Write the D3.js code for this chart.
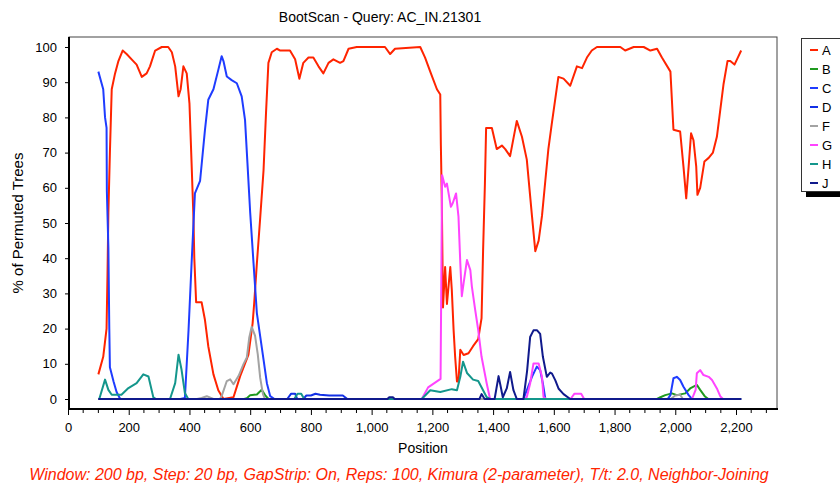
<!DOCTYPE html>
<html><head><meta charset="utf-8">
<script src="https://cdn.jsdelivr.net/npm/d3@7/dist/d3.min.js"></script>
<style>
html,body{margin:0;padding:0;background:#fff;}
svg{display:block;font-family:"Liberation Sans",Arial,sans-serif;}
</style></head>
<body>
<svg id="chart" width="840" height="483"></svg>
<script>
// ---------- DATA ----------
const title = "BootScan - Query: AC_IN.21301";
const xTitle = "Position";
const yTitle = "% of Permuted Trees";
const footer = "Window: 200 bp, Step: 20 bp, GapStrip: On, Reps: 100, Kimura (2-parameter), T/t: 2.0, Neighbor-Joining";
const seriesNames = ["A","B","C","D","F","G","H","J"];
const seriesColors = ["#ff2400","#1f9a1f","#1f3cff","#1230e6","#a3a3a3","#ff44ff","#14968c","#101a8c"];
const xTickValues = [0,200,400,600,800,1000,1200,1400,1600,1800,2000,2200];
const yTickValues = [0,10,20,30,40,50,60,70,80,90,100];

// [position, % of permuted trees]
const seriesA = [[100,7],[116,12],[127,20],[130,35],[133,53],[138,70],[144,88],[155,92.5],[166,96],[180,99],[193,98],[215,96],[226,95],[243,91.5],[259,92.5],[270,94.5],[287,99],[309,100],[330,100],[342,98.5],[353,94.5],[364,86],[371,88],[380,94.5],[391,92.5],[400,84],[407,67],[413,52],[416,40],[422,27.5],[440,27.5],[451,22.5],[462,15],[479,7],[495,2.5],[512,0],[545,0.5],[567,6.5],[594,12.5],[608,21.5],[613,27],[622,38.5],[633,51.5],[644,65],[652,81],[660,95.5],[671,98.5],[688,99.5],[699,99],[731,99],[748,96.5],[762,91],[775,95.5],[792,97],[808,97],[825,94.5],[841,92.5],[858,95.5],[874,96.5],[896,95.5],[907,96],[924,99.5],[951,100],[1044,100],[1061,98],[1077,99.5],[1160,100],[1176,97],[1193,93],[1215,88],[1226,86.5],[1228,72],[1231,57],[1235,26],[1242,37.5],[1248,27],[1259,37.5],[1264,31],[1270,19.5],[1275,12],[1281,5],[1286,5],[1292,14],[1303,12.5],[1319,13],[1334,15],[1351,17],[1362,23],[1367,42],[1373,61],[1377,77],[1396,77],[1412,71],[1429,72],[1440,71],[1456,69],[1478,79],[1495,74.5],[1511,68],[1528,52],[1539,42],[1550,45],[1561,52],[1572,62],[1582,71],[1593,78],[1615,91.5],[1632,91],[1654,89],[1676,94.5],[1693,94],[1709,97],[1725,99],[1742,100],[1819,100],[1835,99],[1863,100],[1896,100],[1918,99],[1940,99.5],[1956,97],[1984,93],[1994,76.5],[2016,76],[2027,66],[2036,57],[2044,66],[2052,75.5],[2060,73.5],[2069,66],[2073,58],[2082,60],[2096,67.5],[2110,68.5],[2124,70],[2137,74.5],[2148,82],[2159,89.5],[2172,96],[2181,96],[2195,95],[2206,97],[2217,99]];
const seriesB = [[100,0],[580,0],[589,0.2],[600,1.1],[622,1.3],[638,2.6],[649,1.1],[660,0],[1940,0],[1951,0.5],[1967,1.1],[1989,1.6],[2005,1.1],[2033,1.6],[2049,3],[2071,4],[2082,2.6],[2098,0.7],[2109,0],[2217,0]];
const seriesC = [[100,93],[116,88],[122,80],[127,77],[128,59],[133,43],[136,20],[138,9],[150,5],[160,2],[172,0],[370,0],[385,0.3],[397,19.6],[407,38.5],[418,58.4],[435,62],[451,76.4],[462,85],[479,88],[495,93.5],[506,97.4],[512,96],[523,91.6],[539,90.6],[556,89.7],[572,86],[583,79.3],[591,67],[600,53],[611,38.6],[622,24.4],[633,17.8],[644,11.2],[655,4.5],[666,0.8],[680,0],[1500,0],[1528,6.3],[1544,9.2],[1555,8.2],[1564,4.4],[1572,0],[1975,0],[1984,1.1],[1994,5.9],[2005,6.3],[2016,5.4],[2027,3.5],[2044,1.1],[2055,0],[2217,0]];
const seriesD = [[100,0],[722,0],[735,1.5],[748,1.5],[755,0],[775,0],[785,1],[800,1],[815,1.5],[830,1.2],[860,1],[905,1],[920,0],[2217,0]];
const seriesF = [[100,0],[425,0],[440,0.3],[457,0.8],[479,0],[500,0],[506,0.8],[523,5.1],[534,5.6],[545,4.2],[562,6.6],[578,9.9],[589,11.8],[597,17.5],[605,20.5],[616,18],[625,12.7],[633,6],[642,1.4],[649,0],[1985,0],[2000,1],[2016,1.2],[2025,0],[2217,0]];
const seriesG = [[100,0],[1165,0],[1186,3.3],[1227,5.7],[1232,63.6],[1242,60.3],[1248,61.2],[1261,54.6],[1267,55.6],[1278,58.4],[1286,51.8],[1292,38.6],[1297,29.2],[1303,33],[1314,39.5],[1325,36.6],[1330,32],[1341,25.3],[1351,19.6],[1362,12],[1379,4.4],[1390,0],[1505,0],[1511,0.6],[1522,4.4],[1533,10.1],[1550,10.1],[1561,6.3],[1566,0.6],[1575,0],[1655,0],[1668,1.5],[1690,1.5],[1700,0],[2055,0],[2067,2.6],[2071,7.3],[2082,8.2],[2093,6.8],[2110,6.3],[2121,5.4],[2137,3],[2148,0.8],[2157,0],[2217,0]];
const seriesH = [[100,0],[103,0],[122,5.5],[133,2.6],[144,1.2],[176,1.2],[199,3.1],[226,4.5],[248,7],[265,6.4],[281,0.5],[290,0],[336,0],[353,4.5],[364,12.6],[374,8.3],[385,1.7],[396,0],[745,0],[756,1.5],[768,1.5],[778,0],[1165,0],[1193,2.5],[1226,2],[1264,2.8],[1281,2.5],[1292,6.3],[1301,10.6],[1314,7.4],[1334,5.5],[1351,5.1],[1367,2.5],[1379,0.5],[1390,0],[2217,0]];
const seriesJ = [[100,0],[1052,0],[1058,0.5],[1070,0.5],[1076,0],[1355,0],[1362,1.4],[1372,0],[1405,0],[1418,6.5],[1424,4],[1432,0.5],[1445,3],[1456,7.7],[1467,2.5],[1478,0],[1500,0],[1512,8],[1522,17.6],[1533,19.5],[1545,19.5],[1555,18.5],[1564,12],[1577,6.3],[1588,7.5],[1594,7.2],[1605,5.3],[1616,2.9],[1632,1.4],[1654,0],[2217,0]];
const allSeries = [seriesA,seriesB,seriesC,seriesD,seriesF,seriesG,seriesH,seriesJ];

// ---------- LAYOUT ----------
const plot = {left:69, right:777, top:37, bottom:409};
const xMax = 2335;
const x = d3.scaleLinear().domain([0,xMax]).range([68,777]);
const y = d3.scaleLinear().domain([-2.84,102.84]).range([409,37]);

const svg = d3.select("#chart");

// frame
svg.append("rect").attr("x",plot.left).attr("y",plot.top)
  .attr("width",plot.right-plot.left).attr("height",plot.bottom-plot.top)
  .attr("fill","#fff").attr("stroke","#444").attr("stroke-width",1);

// lines
const clip = svg.append("clipPath").attr("id","clip").append("rect")
  .attr("x",plot.left).attr("y",plot.top).attr("width",plot.right-plot.left).attr("height",plot.bottom-plot.top);
const line = d3.line().x(d=>x(d[0])).y(d=>y(d[1]));
const gLines = svg.append("g").attr("clip-path","url(#clip)");
allSeries.forEach((s,i)=>{
  gLines.append("path").datum(s).attr("d",line)
    .attr("fill","none").attr("stroke",seriesColors[i]).attr("stroke-width",2)
    .attr("stroke-linejoin","round");
});

// axes
const xAxis = d3.axisBottom(x).tickValues(xTickValues).tickSize(5).tickPadding(8)
  .tickFormat(d3.format(","));
const gx = svg.append("g").attr("transform",`translate(0,${plot.bottom+1})`).call(xAxis);
gx.select(".domain").remove();
gx.selectAll(".tick line").attr("stroke","#000");
gx.selectAll("text").attr("font-size",13).attr("fill","#000").attr("font-family","Liberation Sans, Arial, sans-serif");
const minor = d3.range(0,xMax,50).filter(v=>v%200!==0);
svg.append("g").selectAll("line").data(minor).join("line")
  .attr("x1",d=>x(d)).attr("x2",d=>x(d)).attr("y1",plot.bottom+1).attr("y2",plot.bottom+4)
  .attr("stroke","#000");

const yAxis = d3.axisLeft(y).tickValues(yTickValues).tickSize(3).tickPadding(8);
const gy = svg.append("g").attr("transform",`translate(${plot.left-1},0)`).call(yAxis);
gy.select(".domain").remove();
gy.selectAll(".tick line").attr("stroke","#000");
gy.selectAll("text").attr("font-size",13).attr("fill","#000").attr("font-family","Liberation Sans, Arial, sans-serif");

// thick left/bottom axis lines
svg.append("line").attr("x1",plot.left).attr("x2",plot.left).attr("y1",plot.top).attr("y2",plot.bottom+1)
  .attr("stroke","#000").attr("stroke-width",2);
svg.append("line").attr("x1",plot.left-1).attr("x2",plot.right+1).attr("y1",plot.bottom).attr("y2",plot.bottom)
  .attr("stroke","#000").attr("stroke-width",2);

// titles
svg.append("text").attr("x",380).attr("y",22).attr("text-anchor","middle")
  .attr("font-size",14).text(title);
svg.append("text").attr("x",(plot.left+plot.right)/2).attr("y",453).attr("text-anchor","middle")
  .attr("font-size",14).text(xTitle);
svg.append("text").attr("transform",`translate(23,${(plot.top+plot.bottom)/2}) rotate(-90)`)
  .attr("text-anchor","middle").attr("font-size",15).text(yTitle);
svg.append("text").attr("x",399).attr("y",480).attr("text-anchor","middle")
  .attr("font-size",16).attr("font-style","italic").attr("fill","#ff2400").text(footer);

// legend
const lg = svg.append("g");
lg.append("rect").attr("x",806).attr("y",192).attr("width",40).attr("height",5).attr("fill","#000");
lg.append("rect").attr("x",801.5).attr("y",38.5).attr("width",50).attr("height",153)
  .attr("fill","#fff").attr("stroke","#333").attr("stroke-width",1);
seriesNames.forEach((n,i)=>{
  const cy = 50 + i*19;
  lg.append("line").attr("x1",810).attr("x2",818).attr("y1",cy).attr("y2",cy)
    .attr("stroke",seriesColors[i]).attr("stroke-width",2);
  lg.append("text").attr("x",822).attr("y",cy+5).attr("font-size",13).text(n);
});
</script>
</body></html>
